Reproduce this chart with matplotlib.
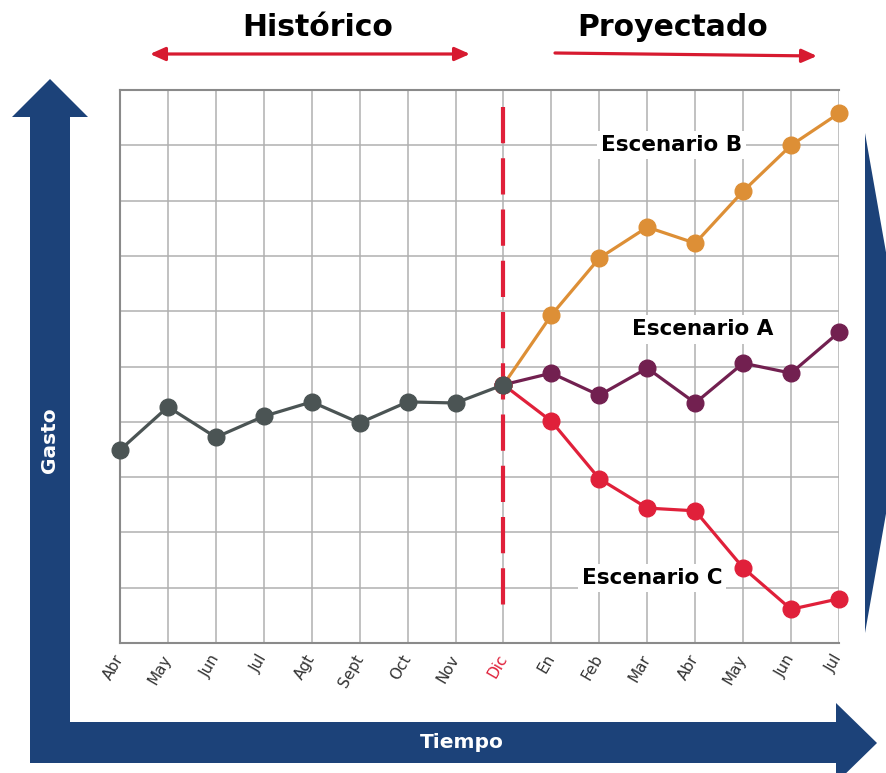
import matplotlib.pyplot as plt
from matplotlib.patches import Polygon, FancyArrowPatch

# months along the x axis
meses = ['Abr', 'May', 'Jun', 'Jul', 'Agt', 'Sept', 'Oct', 'Nov', 'Dic',
         'En', 'Feb', 'Mar', 'Abr', 'May', 'Jun', 'Jul']

# historical spend (Abr .. Dic)
historico = [3.49, 4.27, 3.72, 4.10, 4.36, 3.98, 4.36, 4.34, 4.67]

# scenarios, starting at Dic
esc_b = [4.67, 5.93, 6.96, 7.52, 7.23, 8.17, 9.00, 9.58]
esc_a = [4.67, 4.88, 4.48, 4.97, 4.34, 5.06, 4.88, 5.62]
esc_c = [4.67, 4.01, 2.97, 2.44, 2.39, 1.36, 0.61, 0.80]

gris = '#4b5454'
naranja = '#dd8f36'
morado = '#722050'
rojo = '#e0203a'
azul = '#1c4279'

W, H = 886, 773
fig = plt.figure(figsize=(W / 100, H / 100), dpi=100)

# overlay in pixel coordinates for the big arrows and headers
deco = fig.add_axes([0, 0, 1, 1], zorder=0)
deco.set_xlim(0, W)
deco.set_ylim(H, 0)
deco.axis('off')

# L-shaped blue axes arrows
deco.add_patch(Polygon([(30, 763), (30, 117), (12, 117), (50, 79), (88, 117),
                        (70, 117), (70, 722), (836, 722), (836, 703), (877, 743),
                        (836, 783), (836, 763)], closed=True, color=azul, lw=0))
# right-side wedge
deco.add_patch(Polygon([(865, 133), (909, 383), (865, 633)], closed=True,
                       color=azul, lw=0))
deco.text(462, 743, 'Tiempo', color='white', fontsize=14.5, fontweight='bold',
          ha='center', va='center')
deco.text(50, 440, 'Gasto', color='white', fontsize=14.5, fontweight='bold',
          ha='center', va='center', rotation=90)

deco.text(318, 27, 'Histórico', fontsize=21.5, fontweight='bold', ha='center', va='center')
deco.text(673, 28, 'Proyectado', fontsize=21.5, fontweight='bold', ha='center', va='center')
deco.add_patch(FancyArrowPatch((150, 54), (470, 54), arrowstyle='<|-|>,head_length=9,head_width=4',
                               color='#d71a30', lw=2.3, mutation_scale=1, shrinkA=0, shrinkB=0))
deco.add_patch(FancyArrowPatch((555, 53), (817, 56), arrowstyle='-|>,head_length=9,head_width=4',
                               color='#d71a30', lw=2.3, mutation_scale=1, shrinkA=0, shrinkB=0))

# main chart
ax = fig.add_axes([120 / W, 1 - 643 / H, 719 / W, 553 / H], zorder=1)
ax.set_xlim(0, len(meses) - 1)
ax.set_ylim(0, 10)
ax.set_xticks(range(len(meses)))
ax.set_xticklabels(meses)
ax.set_yticks(range(11))
ax.set_yticklabels([])
ax.grid(True, color='#b0b0b0', lw=1.1)
ax.tick_params(length=0, pad=9)
for lab in ax.get_xticklabels():
    lab.set_rotation(60)
    lab.set_ha('right')
    lab.set_va('center')
    lab.set_rotation_mode('anchor')
    lab.set_fontsize(11)
    lab.set_color('#333333')
ax.get_xticklabels()[8].set_color(rojo)
for s in ['top', 'left', 'bottom']:
    ax.spines[s].set_color('#8a8a8a')
    ax.spines[s].set_linewidth(1.5)
ax.spines['right'].set_visible(False)

x_hist = list(range(len(historico)))
x_proj = list(range(8, len(meses)))

# dashed divider at Dic, pattern starting from the top
ax.plot([8, 8], [9.69, 0.45], color=rojo, lw=3, dashes=(8.7, 3.6), zorder=2)

ax.plot(x_proj, esc_b, color=naranja, lw=2.3, marker='o', ms=12, zorder=3, clip_on=False)
ax.plot(x_proj, esc_a, color=morado, lw=2.3, marker='o', ms=12, zorder=3, clip_on=False)
ax.plot(x_proj, esc_c, color=rojo, lw=2.3, marker='o', ms=12, zorder=3, clip_on=False)
ax.plot(x_hist, historico, color=gris, lw=2.3, marker='o', ms=12, zorder=4, clip_on=False)

caja = dict(facecolor='white', edgecolor='none', pad=3)
ax.text(11.5, 9.0, 'Escenario B', fontsize=15.5, fontweight='bold', ha='center',
        va='center', bbox=caja, zorder=2.5)
ax.text(12.15, 5.67, 'Escenario A', fontsize=15.5, fontweight='bold', ha='center',
        va='center', bbox=caja, zorder=2.5)
ax.text(11.1, 1.17, 'Escenario C', fontsize=15.5, fontweight='bold', ha='center',
        va='center', bbox=caja, zorder=2.5)

fig.savefig('out.png', dpi=100)
